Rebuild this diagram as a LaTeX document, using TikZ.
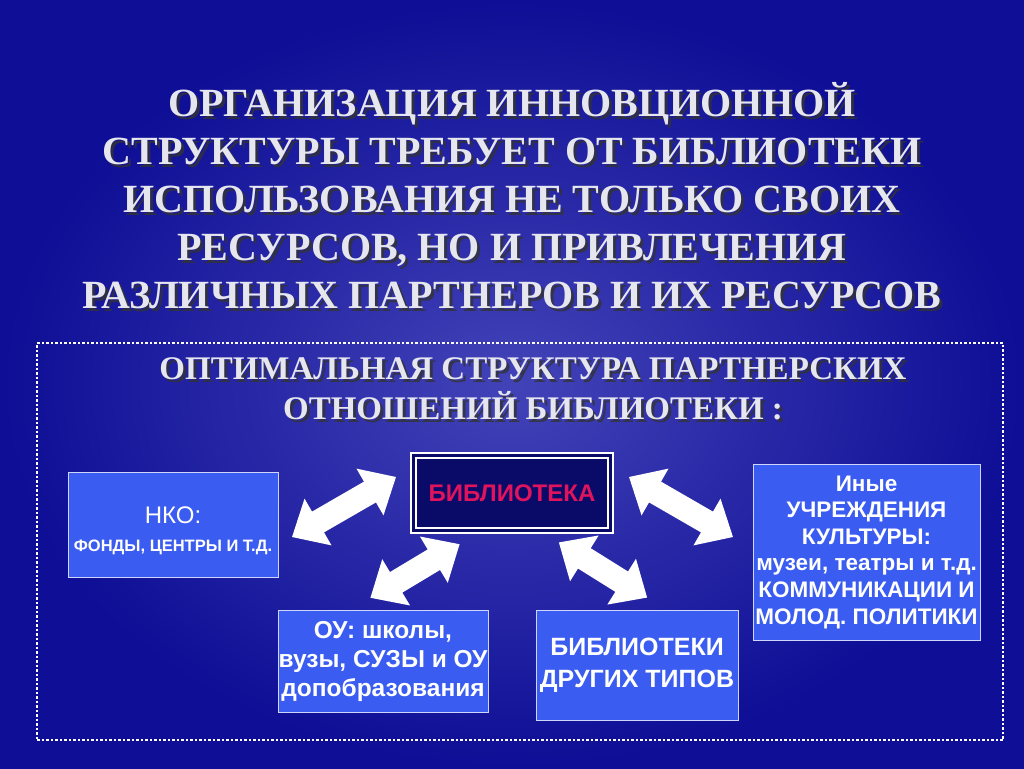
\documentclass[tikz,border=0pt]{standalone}
\usepackage{fontspec}
\setmainfont{Liberation Serif}
\newfontfamily\arial{Liberation Sans}
\definecolor{bg}{HTML}{0E0E96}
\definecolor{boxblue}{HTML}{3A5CF0}
\definecolor{titlec}{HTML}{E6E6EE}
\definecolor{crim}{HTML}{E0145C}
\tikzset{
 titletext/.style={font=\bfseries\fontsize{40}{48}\selectfont, text=titlec, align=center},
 subtext/.style={font=\bfseries\fontsize{33}{40}\selectfont, text=titlec, align=center},
 shadowtext/.style={text=black!80, opacity=0.8},
 bluebox/.style={draw=white!75!boxblue, line width=1pt, fill=boxblue, inner sep=0pt, text=white, font=\arial\bfseries, align=center},
 bigarrow/.style={fill=white, draw=none},
}
\newcommand{\dblarr}[4]{% cx cy angle halflen
 \begin{scope}[shift={(#1,#2)}, rotate=#3]
  \fill[bigarrow] (-#4,0) -- (-#4+30,-27) -- (-#4+30,-12) -- (#4-30,-12) -- (#4-30,-27) -- (#4,0) -- (#4-30,27) -- (#4-30,12) -- (-#4+30,12) -- (-#4+30,27) -- cycle;
 \end{scope}}
\begin{document}
\begin{tikzpicture}[x=1pt,y=-1pt]
\useasboundingbox (0,0) rectangle (1024,768);
\shade[inner color=bg!75!white!90!blue, outer color=bg] (0,0) rectangle (1024,768);
% title
\def\titletxt{ОРГАНИЗАЦИЯ ИННОВЦИОННОЙ\\СТРУКТУРЫ ТРЕБУЕТ ОТ БИБЛИОТЕКИ\\ИСПОЛЬЗОВАНИЯ НЕ ТОЛЬКО СВОИХ\\РЕСУРСОВ, НО И ПРИВЛЕЧЕНИЯ\\РАЗЛИЧНЫХ ПАРТНЕРОВ И ИХ РЕСУРСОВ}
\node[titletext, shadowtext] (titles) at (515,199) {\titletxt};
\node[titletext] (title) at (512,196) {\titletxt};
% frame
\node[draw=white, dotted, line width=2.5pt, minimum width=966, minimum height=397, inner sep=0pt] (frame) at (520,541.5) {};
\def\subtxt{ОПТИМАЛЬНАЯ СТРУКТУРА ПАРТНЕРСКИХ\\ОТНОШЕНИЙ БИБЛИОТЕКИ :}
\node[subtext, shadowtext] (subs) at (536,392) {\subtxt};
\node[subtext] (sub) at (533,389) {\subtxt};
% boxes
\node[bluebox, minimum width=210, minimum height=105] (nko) at (173,524.5) {};
\node[text=white, font=\arial\fontsize{24}{26}\selectfont] (nkot) at (173,515) {НКО:};
\node[text=white, font=\arial\bfseries\fontsize{16.5}{18}\selectfont] (nkot2) at (173,547) {ФОНДЫ, ЦЕНТРЫ И Т.Д.};
\node[draw=white, line width=1.2pt, fill=bg!70!black, minimum width=202, minimum height=80, inner sep=0pt] (lib) at (512,493) {};
\node[draw=white, line width=1.2pt, minimum width=192, minimum height=70, inner sep=0pt] (libin) at (512,493) {};
\node[text=crim, font=\arial\bfseries\fontsize{24}{26}\selectfont] (libt) at (512,493) {БИБЛИОТЕКА};
\node[bluebox, minimum width=210, minimum height=102, font=\arial\bfseries\fontsize{24.5}{29}\selectfont] (ou) at (383,661) {ОУ: школы,\\вузы, СУЗЫ и ОУ\\допобразования};
\node[bluebox, minimum width=202, minimum height=110, font=\arial\bfseries\fontsize{25}{32}\selectfont] (oth) at (637,665) {БИБЛИОТЕКИ\\ДРУГИХ ТИПОВ};
\node[bluebox, minimum width=227, minimum height=176, font=\arial\bfseries\fontsize{22.5}{26.6}\selectfont] (inye) at (866.5,552) {Иные\\УЧРЕЖДЕНИЯ\\КУЛЬТУРЫ:\\музеи, театры и т.д.\\КОММУНИКАЦИИ И\\МОЛОД. ПОЛИТИКИ};
% arrows
\dblarr{344}{507}{30}{60}
\dblarr{415}{571}{31}{52}
\dblarr{681}{507}{-30}{60}
\dblarr{603}{570}{-32}{52}
\end{tikzpicture}
\end{document}
